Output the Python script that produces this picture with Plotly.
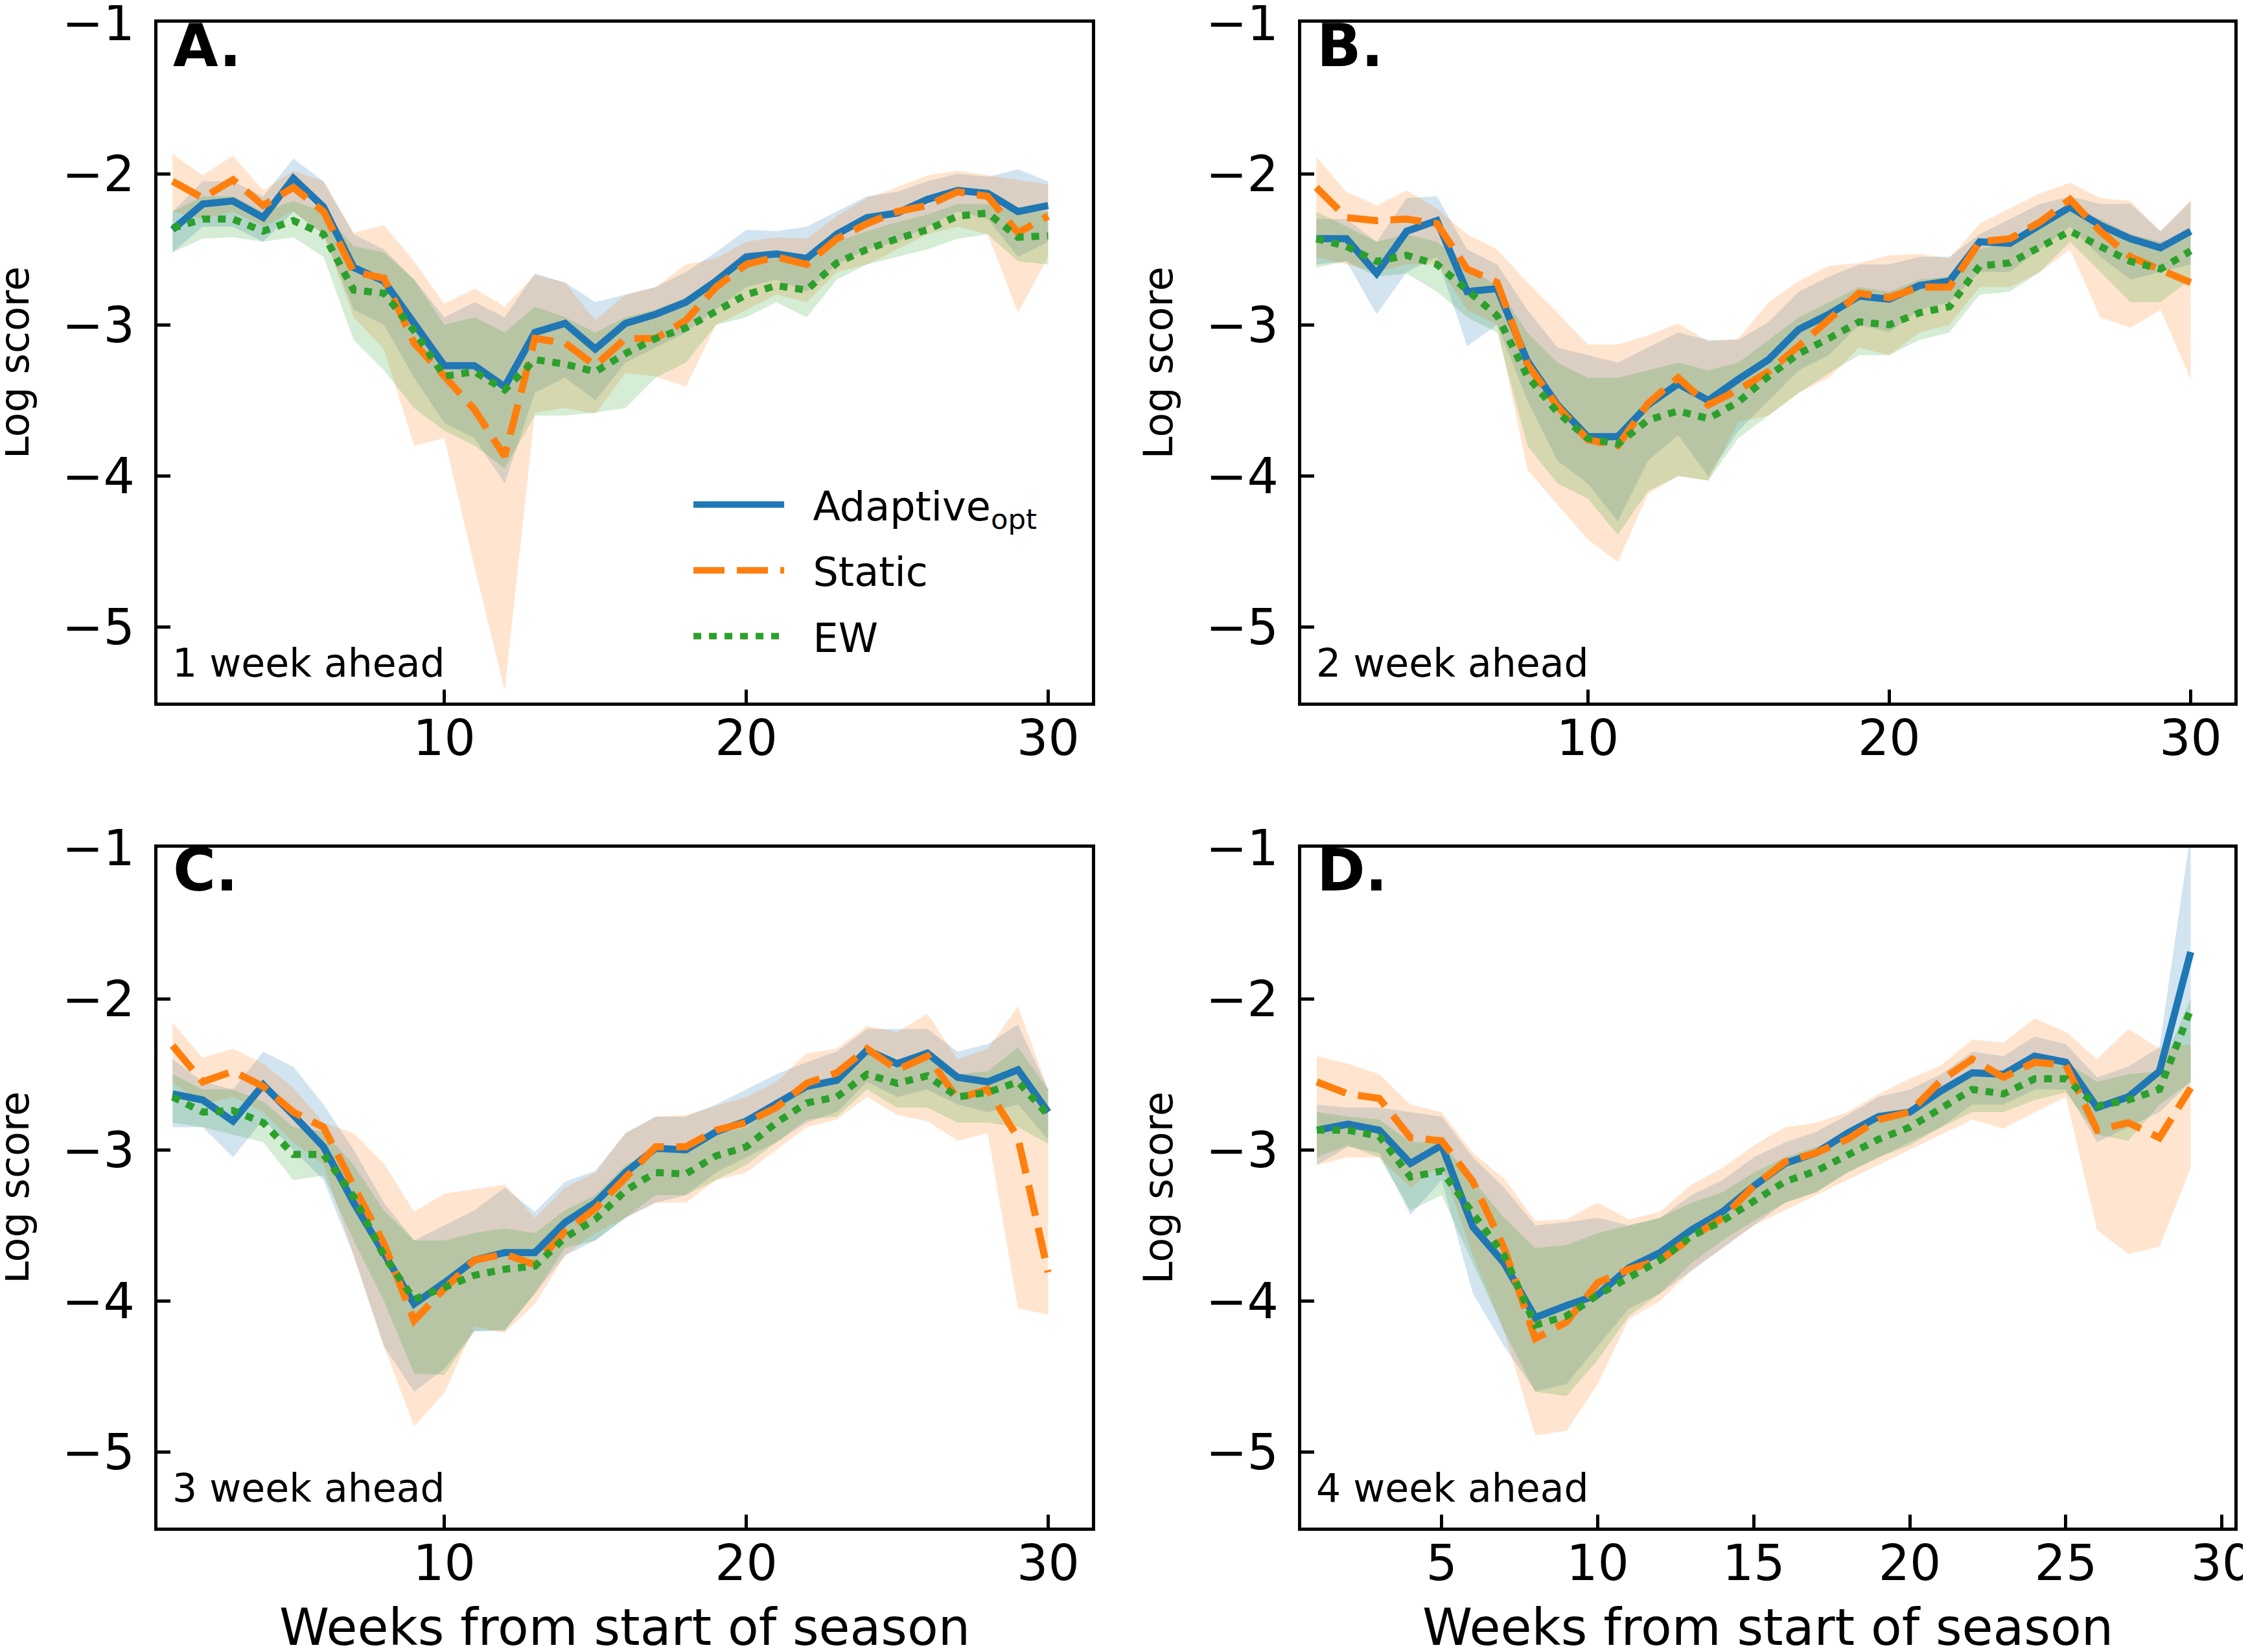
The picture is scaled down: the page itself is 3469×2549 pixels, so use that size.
import plotly.graph_objects as go

# ---------------- data ----------------
weeks_abc = list(range(1, 31))
weeks_d = list(range(1, 30))

A_ada = [-2.37,-2.20,-2.18,-2.29,-2.03,-2.22,-2.62,-2.71,-2.99,-3.27,-3.27,-3.41,-3.05,-2.99,-3.16,-2.99,-2.93,-2.85,-2.71,-2.55,-2.53,-2.56,-2.40,-2.29,-2.26,-2.17,-2.11,-2.13,-2.25,-2.21]
A_ada_hi = [-2.25,-2.05,-2.05,-2.15,-1.90,-2.05,-2.40,-2.50,-2.70,-2.95,-2.85,-2.95,-2.66,-2.72,-2.85,-2.80,-2.75,-2.65,-2.52,-2.37,-2.38,-2.35,-2.25,-2.15,-2.12,-2.05,-2.00,-2.02,-1.97,-2.05]
A_ada_lo = [-2.52,-2.35,-2.35,-2.45,-2.25,-2.40,-2.90,-3.00,-3.35,-3.65,-3.75,-4.05,-3.45,-3.35,-3.50,-3.25,-3.15,-3.05,-2.90,-2.75,-2.70,-2.78,-2.60,-2.50,-2.45,-2.35,-2.25,-2.30,-2.55,-2.45]
A_sta = [-2.05,-2.16,-2.04,-2.21,-2.09,-2.25,-2.65,-2.69,-3.12,-3.34,-3.56,-3.87,-3.09,-3.12,-3.27,-3.09,-3.09,-2.97,-2.75,-2.60,-2.55,-2.60,-2.43,-2.33,-2.25,-2.21,-2.12,-2.15,-2.39,-2.28]
A_sta_hi = [-1.87,-2.01,-1.88,-2.11,-1.98,-2.05,-2.39,-2.34,-2.58,-2.86,-2.76,-2.88,-2.67,-2.72,-2.97,-2.80,-2.75,-2.60,-2.56,-2.45,-2.42,-2.43,-2.28,-2.16,-2.09,-2.01,-1.98,-2.01,-2.04,-2.07]
A_sta_lo = [-2.25,-2.30,-2.25,-2.35,-2.25,-2.40,-2.95,-3.16,-3.80,-3.75,-4.60,-5.42,-3.58,-3.55,-3.59,-3.32,-3.34,-3.41,-3.00,-2.90,-2.80,-2.85,-2.65,-2.60,-2.50,-2.40,-2.35,-2.40,-2.92,-2.55]
A_ew = [-2.36,-2.30,-2.30,-2.38,-2.31,-2.40,-2.77,-2.79,-3.04,-3.34,-3.31,-3.43,-3.23,-3.26,-3.31,-3.19,-3.09,-3.02,-2.91,-2.80,-2.74,-2.77,-2.59,-2.50,-2.43,-2.37,-2.28,-2.26,-2.42,-2.41]
A_ew_hi = [-2.25,-2.15,-2.15,-2.25,-2.18,-2.25,-2.48,-2.52,-2.70,-3.00,-2.95,-3.05,-2.88,-2.95,-3.05,-2.95,-2.90,-2.82,-2.68,-2.58,-2.55,-2.57,-2.45,-2.38,-2.32,-2.27,-2.20,-2.20,-2.25,-2.25]
A_ew_lo = [-2.52,-2.43,-2.42,-2.45,-2.42,-2.55,-3.10,-3.30,-3.55,-3.70,-3.80,-3.95,-3.60,-3.60,-3.58,-3.55,-3.35,-3.25,-3.00,-2.95,-2.85,-2.95,-2.70,-2.60,-2.55,-2.50,-2.43,-2.40,-2.58,-2.60]

B_ada = [-2.43,-2.43,-2.66,-2.38,-2.31,-2.78,-2.76,-3.24,-3.53,-3.74,-3.74,-3.53,-3.39,-3.50,-3.36,-3.23,-3.03,-2.93,-2.81,-2.83,-2.74,-2.71,-2.45,-2.46,-2.34,-2.22,-2.34,-2.43,-2.49,-2.38]
B_ada_hi = [-2.30,-2.30,-2.45,-2.16,-2.15,-2.50,-2.60,-2.90,-3.15,-3.20,-3.25,-3.15,-3.05,-3.10,-3.10,-2.98,-2.78,-2.68,-2.60,-2.60,-2.55,-2.55,-2.40,-2.30,-2.20,-2.15,-2.20,-2.20,-2.38,-2.18]
B_ada_lo = [-2.60,-2.58,-2.93,-2.65,-2.55,-3.14,-3.00,-3.50,-3.90,-4.05,-4.30,-3.90,-3.73,-4.00,-3.70,-3.50,-3.30,-3.20,-3.00,-3.05,-2.90,-2.85,-2.65,-2.65,-2.50,-2.35,-2.55,-2.70,-2.65,-2.60]
B_sta = [-2.09,-2.29,-2.31,-2.30,-2.33,-2.63,-2.72,-3.26,-3.54,-3.76,-3.80,-3.52,-3.35,-3.53,-3.43,-3.31,-3.14,-2.97,-2.79,-2.82,-2.75,-2.75,-2.45,-2.43,-2.32,-2.17,-2.38,-2.55,-2.63,-2.72]
B_sta_hi = [-1.89,-2.12,-2.21,-2.11,-2.23,-2.40,-2.50,-2.72,-2.92,-3.13,-3.13,-3.07,-2.99,-3.11,-3.09,-2.85,-2.71,-2.61,-2.59,-2.54,-2.53,-2.56,-2.33,-2.23,-2.13,-2.06,-2.16,-2.18,-2.38,-2.18]
B_sta_lo = [-2.55,-2.60,-2.65,-2.60,-2.60,-2.90,-3.00,-3.96,-4.19,-4.42,-4.57,-4.12,-4.00,-4.03,-3.64,-3.60,-3.45,-3.35,-3.15,-3.20,-3.05,-3.00,-2.75,-2.75,-2.65,-2.50,-2.95,-3.02,-2.90,-3.36]
B_ew = [-2.43,-2.48,-2.58,-2.54,-2.60,-2.77,-2.94,-3.34,-3.58,-3.75,-3.79,-3.63,-3.57,-3.62,-3.51,-3.34,-3.19,-3.09,-2.98,-3.00,-2.92,-2.88,-2.61,-2.59,-2.48,-2.38,-2.48,-2.58,-2.63,-2.51]
B_ew_hi = [-2.25,-2.35,-2.45,-2.40,-2.45,-2.60,-2.75,-3.05,-3.25,-3.35,-3.35,-3.30,-3.25,-3.30,-3.25,-3.10,-2.95,-2.85,-2.75,-2.78,-2.70,-2.68,-2.50,-2.45,-2.35,-2.25,-2.30,-2.40,-2.45,-2.40]
B_ew_lo = [-2.62,-2.58,-2.68,-2.66,-2.78,-2.95,-3.05,-3.80,-4.05,-4.15,-4.39,-4.10,-4.00,-4.03,-3.75,-3.60,-3.45,-3.32,-3.20,-3.20,-3.10,-3.05,-2.80,-2.78,-2.65,-2.45,-2.65,-2.85,-2.85,-2.70]

C_ada = [-2.63,-2.67,-2.81,-2.57,-2.77,-2.98,-3.35,-3.68,-4.02,-3.88,-3.73,-3.68,-3.68,-3.48,-3.35,-3.15,-2.99,-3.00,-2.88,-2.81,-2.70,-2.58,-2.54,-2.34,-2.43,-2.36,-2.52,-2.55,-2.47,-2.75]
C_ada_hi = [-2.40,-2.55,-2.60,-2.35,-2.45,-2.70,-3.00,-3.35,-3.60,-3.50,-3.40,-3.25,-3.41,-3.21,-3.14,-2.89,-2.78,-2.78,-2.70,-2.60,-2.50,-2.42,-2.35,-2.20,-2.20,-2.20,-2.35,-2.30,-2.17,-2.60]
C_ada_lo = [-2.85,-2.85,-3.05,-2.80,-3.00,-3.20,-3.70,-4.30,-4.60,-4.45,-4.20,-4.20,-3.95,-3.70,-3.60,-3.45,-3.35,-3.30,-3.15,-3.05,-2.95,-2.82,-2.75,-2.55,-2.65,-2.60,-2.70,-2.75,-2.70,-2.93]
C_sta = [-2.31,-2.55,-2.48,-2.58,-2.75,-2.85,-3.24,-3.62,-4.13,-3.92,-3.73,-3.69,-3.76,-3.54,-3.39,-3.19,-2.98,-2.98,-2.87,-2.82,-2.72,-2.56,-2.49,-2.33,-2.47,-2.38,-2.66,-2.60,-2.92,-3.81]
C_sta_hi = [-2.16,-2.39,-2.33,-2.43,-2.59,-2.82,-2.89,-3.09,-3.41,-3.29,-3.26,-3.23,-3.45,-3.25,-3.15,-2.89,-2.78,-2.77,-2.71,-2.65,-2.55,-2.36,-2.33,-2.18,-2.22,-2.10,-2.40,-2.33,-2.05,-2.60]
C_sta_lo = [-2.55,-2.70,-2.65,-2.75,-2.95,-3.10,-3.70,-4.30,-4.83,-4.61,-4.17,-4.21,-4.02,-3.70,-3.55,-3.45,-3.35,-3.35,-3.20,-3.15,-3.00,-2.85,-2.80,-2.65,-2.77,-2.81,-2.94,-2.89,-4.05,-4.09]
C_ew = [-2.65,-2.75,-2.74,-2.82,-3.03,-3.03,-3.31,-3.70,-3.99,-3.91,-3.83,-3.79,-3.77,-3.58,-3.46,-3.27,-3.15,-3.16,-3.04,-2.98,-2.82,-2.69,-2.65,-2.50,-2.56,-2.51,-2.65,-2.62,-2.55,-2.77]
C_ew_hi = [-2.50,-2.60,-2.60,-2.68,-2.85,-2.88,-3.10,-3.40,-3.60,-3.60,-3.55,-3.52,-3.55,-3.40,-3.30,-3.10,-3.00,-3.00,-2.90,-2.85,-2.70,-2.55,-2.52,-2.35,-2.42,-2.35,-2.50,-2.48,-2.32,-2.60]
C_ew_lo = [-2.82,-2.85,-2.90,-2.95,-3.20,-3.17,-3.60,-4.00,-4.48,-4.49,-4.20,-4.19,-3.95,-3.65,-3.60,-3.45,-3.30,-3.30,-3.20,-3.10,-2.95,-2.80,-2.78,-2.60,-2.72,-2.72,-2.82,-2.82,-2.85,-2.96]

D_ada = [-2.87,-2.83,-2.87,-3.09,-2.97,-3.51,-3.75,-4.11,-4.03,-3.96,-3.78,-3.68,-3.53,-3.41,-3.24,-3.09,-3.02,-2.89,-2.78,-2.75,-2.61,-2.49,-2.50,-2.38,-2.42,-2.72,-2.65,-2.48,-1.69]
D_ada_hi = [-2.70,-2.72,-2.72,-2.75,-2.78,-3.05,-3.25,-3.50,-3.48,-3.45,-3.50,-3.45,-3.30,-3.20,-3.05,-2.95,-2.88,-2.77,-2.65,-2.60,-2.50,-2.35,-2.38,-2.25,-2.30,-2.52,-2.45,-2.32,-0.90]
D_ada_lo = [-3.10,-2.98,-3.02,-3.43,-3.20,-3.95,-4.30,-4.60,-4.55,-4.30,-4.05,-3.95,-3.80,-3.65,-3.50,-3.35,-3.28,-3.15,-3.05,-2.95,-2.85,-2.70,-2.70,-2.60,-2.60,-2.95,-2.85,-2.75,-2.55]
D_sta = [-2.55,-2.63,-2.66,-2.92,-2.94,-3.21,-3.65,-4.25,-4.14,-3.88,-3.79,-3.73,-3.58,-3.45,-3.24,-3.08,-3.02,-2.93,-2.80,-2.75,-2.54,-2.40,-2.52,-2.42,-2.44,-2.87,-2.82,-2.92,-2.59]
D_sta_hi = [-2.38,-2.43,-2.50,-2.70,-2.75,-3.02,-3.19,-3.47,-3.46,-3.35,-3.46,-3.41,-3.23,-3.12,-2.97,-2.85,-2.82,-2.75,-2.63,-2.53,-2.44,-2.27,-2.29,-2.13,-2.22,-2.40,-2.20,-2.33,-2.30]
D_sta_lo = [-3.10,-3.05,-3.05,-3.25,-3.10,-3.70,-4.20,-4.89,-4.86,-4.55,-4.12,-4.00,-3.80,-3.65,-3.50,-3.40,-3.30,-3.20,-3.10,-3.00,-2.90,-2.80,-2.86,-2.75,-2.65,-3.53,-3.69,-3.64,-3.12]
D_ew = [-2.87,-2.87,-2.91,-3.18,-3.14,-3.43,-3.70,-4.16,-4.10,-3.96,-3.84,-3.73,-3.57,-3.47,-3.34,-3.21,-3.14,-3.03,-2.93,-2.85,-2.72,-2.60,-2.63,-2.53,-2.53,-2.71,-2.67,-2.60,-2.07]
D_ew_hi = [-2.75,-2.78,-2.80,-2.95,-2.95,-3.20,-3.45,-3.65,-3.63,-3.55,-3.50,-3.45,-3.35,-3.28,-3.15,-3.05,-2.98,-2.90,-2.80,-2.72,-2.60,-2.50,-2.50,-2.40,-2.42,-2.55,-2.50,-2.48,-2.00]
D_ew_lo = [-3.05,-2.97,-3.05,-3.40,-3.30,-3.75,-4.20,-4.60,-4.63,-4.39,-4.10,-3.95,-3.75,-3.60,-3.47,-3.35,-3.28,-3.15,-3.05,-2.97,-2.85,-2.75,-2.75,-2.67,-2.62,-2.90,-2.94,-2.70,-2.55]

panel_letters = ["A.", "B.", "C.", "D."]
horizon_labels = ["1 week ahead", "2 week ahead", "3 week ahead", "4 week ahead"]
series_names = ["Adaptive<sub>opt</sub>", "Static", "EW"]
y_ticks = [-1, -2, -3, -4, -5]
x_ticks_abc = [10, 20, 30]
x_ticks_d = [5, 10, 15, 20, 25, 30]
x_title = "Weeks from start of season"
y_title = "Log score"

# ---------------- styling ----------------
colors = ["#1f77b4", "#ff7f0e", "#2ca02c"]
fills = ["rgba(31,119,180,0.2)", "rgba(255,127,14,0.2)", "rgba(44,160,44,0.2)"]
dashes = ["solid", "48px,19px", "12px,12px"]
FONT = "DejaVu Sans"
NB = "\u00a0\u00a0"

panels = [
    (weeks_abc, [(A_ada, A_ada_lo, A_ada_hi), (A_sta, A_sta_lo, A_sta_hi), (A_ew, A_ew_lo, A_ew_hi)]),
    (weeks_abc, [(B_ada, B_ada_lo, B_ada_hi), (B_sta, B_sta_lo, B_sta_hi), (B_ew, B_ew_lo, B_ew_hi)]),
    (weeks_abc, [(C_ada, C_ada_lo, C_ada_hi), (C_sta, C_sta_lo, C_sta_hi), (C_ew, C_ew_lo, C_ew_hi)]),
    (weeks_d, [(D_ada, D_ada_lo, D_ada_hi), (D_sta, D_sta_lo, D_sta_hi), (D_ew, D_ew_lo, D_ew_hi)]),
]

W, H = 3469, 2549
ML, MR, MT, MB = 235, 29, 27, 200
PW = W - ML - MR  # 3205
xdoms = [[0.0, 1442 / PW], [1765 / PW, 1.0], [0.0, 1442 / PW], [1765 / PW, 1.0]]
ydoms = [[0.5482, 1.0], [0.5482, 1.0], [0.0, 0.4518], [0.0, 0.4518]]

fig = go.Figure()

for p, (wk, series) in enumerate(panels):
    xa = "x" if p == 0 else f"x{p+1}"
    ya = "y" if p == 0 else f"y{p+1}"
    for s, (mid, lo, hi) in enumerate(series):
        fig.add_trace(go.Scatter(
            x=list(wk) + list(wk)[::-1], y=list(hi) + list(lo)[::-1],
            fill="toself", fillcolor=fills[s], line=dict(width=0),
            mode="lines", hoverinfo="skip", showlegend=False,
            xaxis=xa, yaxis=ya))
    for s, (mid, lo, hi) in enumerate(series):
        fig.add_trace(go.Scatter(
            x=wk, y=mid, mode="lines", name=NB + series_names[s],
            line=dict(color=colors[s], width=11, dash=dashes[s]),
            showlegend=(p == 0), legendgroup=f"g{s}",
            xaxis=xa, yaxis=ya))

axis_common = dict(
    showline=True, linecolor="black", linewidth=5, mirror=True,
    ticks="inside", ticklen=20, tickwidth=5, tickcolor="black",
    showgrid=False, zeroline=False, automargin=False,
    ticklabeloverflow="allow",
    tickfont=dict(family=FONT, size=76, color="black"),
)

layout = dict(
    width=W, height=H,
    margin=dict(l=ML, r=MR, t=MT, b=MB, autoexpand=False),
    paper_bgcolor="white", plot_bgcolor="white",
    font=dict(family=FONT, color="black"),
    showlegend=True,
    legend=dict(
        x=0.2565, y=0.700, xanchor="left", yanchor="top",
        font=dict(family=FONT, size=62, color="black"),
        bgcolor="rgba(0,0,0,0)", itemwidth=140,
        traceorder="grouped", tracegroupgap=18,
    ),
)

annotations = []
for p in range(4):
    k = "" if p == 0 else str(p + 1)
    xr = [0.5, 31.45] if p < 3 else [0.5, 30.4]
    xt = x_ticks_abc if p < 3 else x_ticks_d
    layout["xaxis" + k] = dict(axis_common, domain=xdoms[p], range=xr, tickvals=xt,
                               anchor="y" + k, ticklabelstandoff=-15)
    layout["yaxis" + k] = dict(axis_common, domain=ydoms[p], range=[-5.5, -1.0], tickvals=y_ticks,
                               anchor="x" + k, ticklabelstandoff=15)
    xref, yref = f"x{k} domain", f"y{k} domain"
    annotations.append(dict(
        text="<b>" + panel_letters[p] + "</b>", xref=xref, yref=yref,
        x=0.015, y=0.9666, xanchor="left", yanchor="middle", showarrow=False,
        font=dict(family=FONT, size=90, color="black")))
    annotations.append(dict(
        text=horizon_labels[p], xref=xref, yref=yref,
        x=0.0146, y=0.0585, xanchor="left", yanchor="middle", showarrow=False,
        font=dict(family=FONT, size=60, color="black")))
    # y-axis title
    annotations.append(dict(
        text=y_title, xref=xref, yref=yref, x=-0.153, y=0.5, textangle=-90,
        xanchor="center", yanchor="middle", showarrow=False,
        font=dict(family=FONT, size=62, color="black")))
    # x-axis title (bottom row)
    if p >= 2:
        annotations.append(dict(
            text=x_title, xref=xref, yref=yref, x=0.5, y=-0.147,
            xanchor="center", yanchor="middle", showarrow=False,
            font=dict(family=FONT, size=78, color="black")))

layout["annotations"] = annotations
fig.update_layout(**layout)
fig.write_html("out.html")
